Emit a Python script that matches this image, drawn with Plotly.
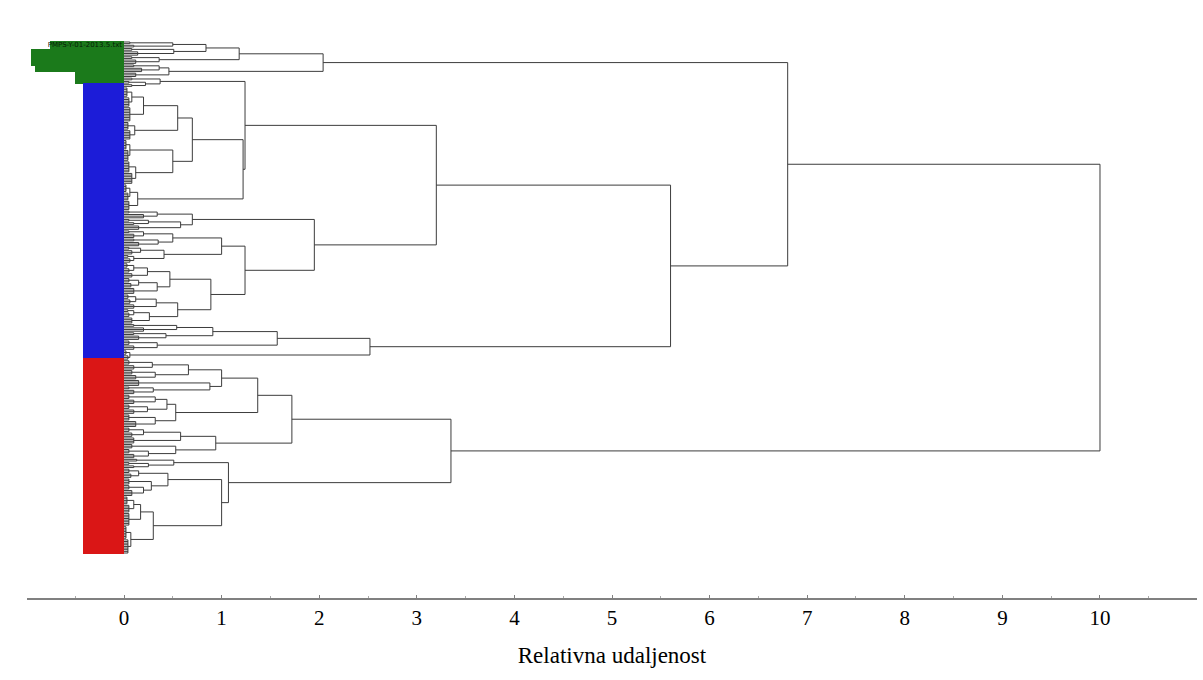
import plotly.graph_objects as go

# ---- data: dendrogram ----
# node = [merge_height, left_child, right_child]; bundle = (leaf_count, merge_height)
ROOT_H = 10.0
UPPER_H = 6.8

GREEN_TREE = [2.04,
    [1.18,
        [0.84,
            [0.50, (2, 0.06), (2, 0.10)],
            [0.51, (2, 0.08), (3, 0.14)]],
        [0.36, (2, 0.08), (3, 0.12)]],
    [0.46,
        [0.36, (2, 0.10), (3, 0.18)],
        (3, 0.12)]]

BLUE_TREE = [5.6,
    [3.2,
        [1.24,
            [0.37, (2, 0.08), [0.22, (2, 0.05), (2, 0.08)]],
            [1.22,
                [0.70,
                    [0.55,
                        [0.20, [0.08, (6, 0.03), (6, 0.05)], (9, 0.06)],
                        [0.11, (5, 0.04), (6, 0.06)]],
                    [0.50, [0.06, (6, 0.02), (7, 0.04)], [0.12, (7, 0.05), (7, 0.08)]]],
                [0.14, [0.06, (5, 0.02), (5, 0.04)], (6, 0.05)]]],
        [1.95,
            [0.70,
                [0.34, (2, 0.05), (3, 0.20)],
                [0.58, [0.25, (2, 0.05), (2, 0.10)], (3, 0.15)]],
            [1.24,
                [1.0,
                    [0.50, [0.20, (2, 0.05), (3, 0.10)], [0.35, (2, 0.10), (3, 0.15)]],
                    [0.41, [0.17, (2, 0.05), (3, 0.08)], [0.10, (2, 0.04), (3, 0.06)]]],
                [0.89,
                    [0.47,
                        [0.24, [0.10, (3, 0.03), (3, 0.05)], (3, 0.08)],
                        [0.34, [0.15, (3, 0.05), (3, 0.07)], (4, 0.10)]],
                    [0.55,
                        [0.33, [0.12, (3, 0.04), (3, 0.06)], (3, 0.10)],
                        [0.26, [0.10, (2, 0.04), (3, 0.05)], (4, 0.08)]]]]]],
    [2.52,
        [1.57,
            [0.91, [0.54, (2, 0.10), (3, 0.20)], [0.43, (2, 0.10), (3, 0.15)]],
            [0.34, (3, 0.05), (3, 0.10)]],
        [0.06, (3, 0.02), (3, 0.04)]]]

RED_TREE = [3.35,
    [1.72,
        [1.37,
            [1.0,
                [0.66, [0.29, (3, 0.05), (3, 0.10)], [0.32, (3, 0.08), (3, 0.12)]],
                [0.88, (4, 0.15), [0.30, (2, 0.05), (3, 0.10)]]],
            [0.53,
                [0.44, [0.32, (3, 0.05), (3, 0.10)], [0.24, (3, 0.05), (3, 0.10)]],
                [0.32, (4, 0.05), (4, 0.12)]]],
        [0.94,
            [0.58, [0.20, (3, 0.05), (3, 0.08)], (4, 0.10)],
            [0.53, (3, 0.08), [0.25, (3, 0.05), (3, 0.10)]]]],
    [1.07,
        [0.51, (2, 0.13), [0.25, (2, 0.05), (2, 0.10)]],
        [1.0,
            [0.45, [0.15, (3, 0.05), (3, 0.07)],
                   [0.28, (4, 0.05), [0.20, (3, 0.05), (4, 0.08)]]],
            [0.30, [0.17, [0.10, (5, 0.03), (5, 0.05)], (8, 0.05)],
                   [0.07, (8, 0.02), (9, 0.04)]]]]]

# label blocks: leaves coloured in order (green, blue, red)
GROUP_SIZES = [26, 167, 118]
GROUP_NAMES = ["green", "blue", "red"]
GROUP_COLORS = {"green": "#1b7a1b", "blue": "#1c1cd8", "red": "#da1616"}
LABEL_LEN = {"blue": 0.42, "red": 0.42}
GREEN_LABEL_LENS = [0.76, 0.76, 0.76, 0.76, 0.76, 0.95, 0.95, 0.95, 0.95, 0.95,
                    0.95, 0.95, 0.95, 0.95, 0.95, 0.91, 0.91, 0.91, 0.91, 0.5,
                    0.5, 0.5, 0.5, 0.5, 0.5, 0.5]
TOP_LABEL = "PMPS-Y-01-2013.5.txt"
TICK_VALUES = list(range(0, 11))
X_TITLE = "Relativna udaljenost"

# ---- layout of the tree ----
n_leaves = [0]
xs, ys = [], []


def seg(x0, y0, x1, y1):
    xs.extend([x0, x1, None])
    ys.extend([y0, y1, None])


def place(node):
    if isinstance(node, tuple):
        n, h = node
        pos = list(range(n_leaves[0], n_leaves[0] + n))
        n_leaves[0] += n
        if n == 1:
            return pos[0], 0.0
        for p in pos:
            seg(0, p, h, p)
        seg(h, pos[0], h, pos[-1])
        return sum(pos) / n, h
    h, a, b = node
    ca, ha = place(a)
    cb, hb = place(b)
    seg(ha, ca, h, ca)
    seg(hb, cb, h, cb)
    seg(h, ca, h, cb)
    return (ca + cb) / 2, h


cg, hg = place(GREEN_TREE)
cb, hb = place(BLUE_TREE)
seg(hg, cg, UPPER_H, cg)
seg(hb, cb, UPPER_H, cb)
seg(UPPER_H, cg, UPPER_H, cb)
cu = (cg + cb) / 2
cr, hr = place(RED_TREE)
seg(UPPER_H, cu, ROOT_H, cu)
seg(hr, cr, ROOT_H, cr)
seg(ROOT_H, cu, ROOT_H, cr)

N = n_leaves[0]
leaf_groups = []
for name, size in zip(GROUP_NAMES, GROUP_SIZES):
    leaf_groups.extend([name] * size)
leaf_groups = (leaf_groups + ["red"] * N)[:N]
lens = []
gi = 0
for g in leaf_groups:
    if g == "green":
        lens.append(GREEN_LABEL_LENS[min(gi, len(GREEN_LABEL_LENS) - 1)])
        gi += 1
    else:
        lens.append(LABEL_LEN[g])

fig = go.Figure()
fig.add_trace(go.Bar(
    orientation="h", y=list(range(N)), x=lens, base=[-v for v in lens],
    width=1.0, marker=dict(color=[GROUP_COLORS[g] for g in leaf_groups], line=dict(width=0)),
    hoverinfo="skip", showlegend=False))
fig.add_trace(go.Scatter(x=[-0.02], y=[2.0], mode="text", text=[TOP_LABEL],
                         textposition="middle left",
                         textfont=dict(family="DejaVu Sans", size=7, color="#062006"),
                         hoverinfo="skip", showlegend=False))
fig.add_trace(go.Scatter(x=xs, y=ys, mode="lines", line=dict(color="#3c3c3c", width=1),
                         hoverinfo="skip", showlegend=False))

# pixel mapping: plot area top=10, bottom=598 (height 588); first leaf at 42, last at 553
H = 588.0
span = (N - 1) * H / 511.0
r0 = -32.0 * span / H
r1 = r0 + span

fig.update_layout(
    width=1203, height=680,
    margin=dict(l=27, r=6, t=10, b=82),
    paper_bgcolor="white", plot_bgcolor="white",
    bargap=0,
    xaxis=dict(range=[-0.994, 10.994], tickvals=TICK_VALUES, showgrid=False, zeroline=False,
               showline=True, linecolor="#808080", linewidth=1.5,
               ticks="inside", ticklen=3, tickcolor="#808080",
               minor=dict(dtick=0.5, ticks="inside", ticklen=2, tickcolor="#aaaaaa"),
               tickfont=dict(family="Liberation Serif", size=21, color="black"),
               title=dict(text=X_TITLE, font=dict(family="Liberation Serif", size=23, color="black"),
                          standoff=18)),
    yaxis=dict(range=[r1, r0], visible=False, showgrid=False, zeroline=False),
)

fig.write_html("out.html", config={"displayModeBar": False},
               post_script="document.body.style.margin='0px';")
